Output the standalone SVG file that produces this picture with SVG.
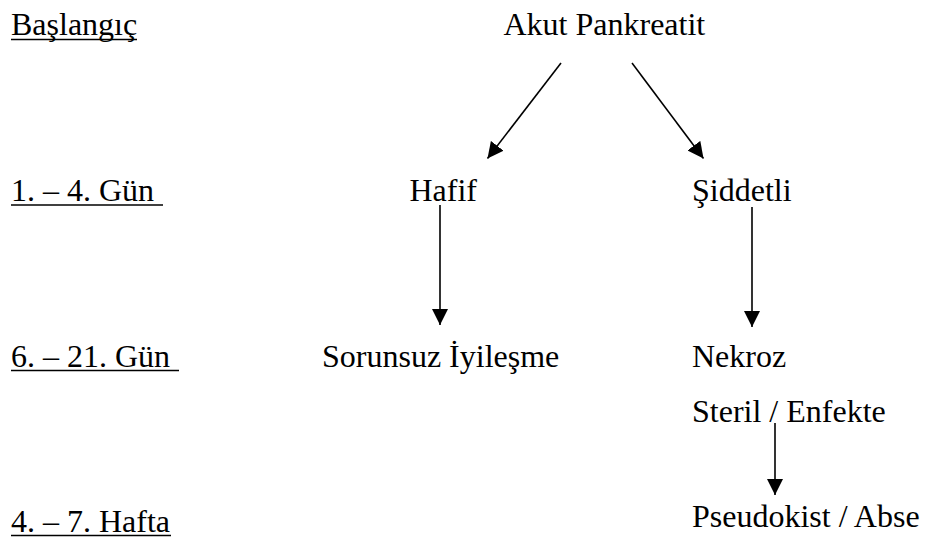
<svg xmlns="http://www.w3.org/2000/svg" width="925" height="538" viewBox="0 0 925 538">
<style>
text{font-family:'Liberation Serif','Times New Roman',Tinos,'DejaVu Serif',serif;font-size:32px;fill:#000}
.ul{stroke:#000;stroke-width:1.6}
.c{stroke:#000;stroke-width:1.6;fill:none;marker-end:url(#ah)}
</style>
<defs>
<marker id="ah" markerUnits="userSpaceOnUse" markerWidth="16" markerHeight="16" refX="16" refY="8" orient="auto" viewBox="0 0 16 16">
<path d="M0,0 L16,8 L0,16 z" fill="#000"/>
</marker>
</defs>
<rect width="925" height="538" fill="#fff"/>
<g font-family="Liberation Serif, Times New Roman, DejaVu Serif, serif" font-size="32">
<g id="labels">
<g id="l-baslangic"><text x="11" y="34.5">Başlangıç</text><line class="ul" x1="11" y1="39.5" x2="137" y2="39.5"/></g>
<g id="l-gun1"><text x="11" y="201">1. – 4. Gün</text><line class="ul" x1="11" y1="205" x2="163" y2="205"/></g>
<g id="l-gun6"><text x="11" y="366.5">6. – 21. Gün</text><line class="ul" x1="11" y1="370.5" x2="179" y2="370.5"/></g>
<g id="l-hafta"><text x="11" y="531.5">4. – 7. Hafta</text><line class="ul" x1="11" y1="535.5" x2="171" y2="535.5"/></g>
</g>
<g id="n-akut"><text x="503.5" y="34.5">Akut Pankreatit</text></g>
<g id="n-hafif"><text x="409.5" y="201">Hafif</text></g>
<g id="n-siddetli"><text x="692" y="201">Şiddetli</text></g>
<g id="n-sorunsuz"><text x="322" y="366.5">Sorunsuz İyileşme</text></g>
<g id="n-nekroz"><text x="692" y="366.5">Nekroz</text></g>
<g id="n-steril"><text x="692" y="421.5">Steril / Enfekte</text></g>
<g id="n-pseudokist"><text x="692" y="526.5">Pseudokist / Abse</text></g>
</g>
<g id="connectors">
<line class="c" x1="561" y1="63" x2="487.5" y2="158.5"/>
<line class="c" x1="632" y1="63" x2="703.5" y2="158.5"/>
<line class="c" x1="440" y1="205" x2="440" y2="325"/>
<line class="c" x1="752" y1="207" x2="752" y2="327"/>
<line class="c" x1="775" y1="423" x2="775" y2="495"/>
</g>
</svg>
